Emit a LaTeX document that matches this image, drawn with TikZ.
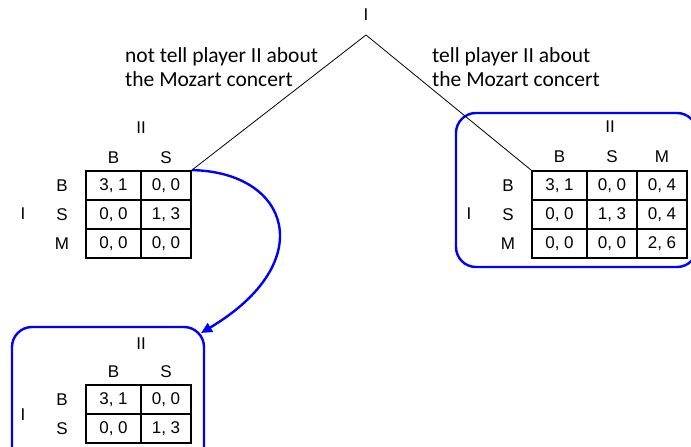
\documentclass[tikz,border=0pt]{standalone}
\usepackage{fontspec}
\setmainfont{Liberation Sans}
\newfontfamily\movefont{Carlito}
\usetikzlibrary{arrows.meta,positioning}

\begin{document}
\begin{tikzpicture}[x=1pt,y=-1pt,
    cell/.style={draw, line width=1.8pt, minimum height=29pt, inner sep=0pt, font=\fontsize{17}{19}\selectfont},
    wide/.style={cell, minimum width=55pt},
    slim/.style={cell, minimum width=50pt},
    lbl/.style={font=\fontsize{17}{19}\selectfont, inner sep=0pt},
    move/.style={font=\movefont\fontsize{21.5}{24}\selectfont, align=left, inner sep=0pt, anchor=base west},
    infoset/.style={draw=blue, line width=2.4pt, rounded corners=20pt}]
    \useasboundingbox (0,0) rectangle (691,447);

    % Root of the tree
    \node[lbl] (rootlbl) at (366,15) {I};
    \coordinate (root) at (366,35);

    % Moves of player I
    \node[move] (notell) at (125,86) {not tell player II about\\the Mozart concert};
    \node[move] (tell) at (432,86) {tell player II about\\the Mozart concert};

    % Left game: Mozart unknown to II
    \node[lbl] (lII) at (141,128) {II};
    \node[lbl] (lB) at (113.5,158) {B};
    \node[lbl] (lS) at (166,158) {S};
    \node[lbl] (lI) at (23,214) {I};
    \node[lbl] (lrB) at (62,185.5) {B};
    \node[lbl] (lrS) at (62,214.5) {S};
    \node[lbl] (lrM) at (62,243.5) {M};
    \node[wide] (l11) at (113.5,185.5) {3, 1};
    \node[slim] (l12) at (166,185.5) {0, 0};
    \node[wide] (l21) at (113.5,214.5) {0, 0};
    \node[slim] (l22) at (166,214.5) {1, 3};
    \node[wide] (l31) at (113.5,243.5) {0, 0};
    \node[slim] (l32) at (166,243.5) {0, 0};

    % Right game: Mozart known to II
    \draw[infoset] (456,113) rectangle (697,267);
    \node[lbl] (rII) at (610,127) {II};
    \node[lbl] (rB) at (559.5,157) {B};
    \node[lbl] (rS) at (612,157) {S};
    \node[lbl] (rM) at (662,157) {M};
    \node[lbl] (rI) at (469,214) {I};
    \node[lbl] (rrB) at (508,185.5) {B};
    \node[lbl] (rrS) at (508,214.5) {S};
    \node[lbl] (rrM) at (508,243.5) {M};
    \node[wide] (r11) at (559.5,185.5) {3, 1};
    \node[slim] (r12) at (612,185.5) {0, 0};
    \node[slim] (r13) at (662,185.5) {0, 4};
    \node[wide] (r21) at (559.5,214.5) {0, 0};
    \node[slim] (r22) at (612,214.5) {1, 3};
    \node[slim] (r23) at (662,214.5) {0, 4};
    \node[wide] (r31) at (559.5,243.5) {0, 0};
    \node[slim] (r32) at (612,243.5) {0, 0};
    \node[slim] (r33) at (662,243.5) {2, 6};

    % Reduced game: M dropped
    \draw[infoset] (12,327) rectangle (204,470);
    \node[lbl] (dII) at (141,344) {II};
    \node[lbl] (dB) at (113.5,372) {B};
    \node[lbl] (dS) at (166,372) {S};
    \node[lbl] (dI) at (23,415) {I};
    \node[lbl] (drB) at (62,399.5) {B};
    \node[lbl] (drS) at (62,428.5) {S};
    \node[wide] (d11) at (113.5,399.5) {3, 1};
    \node[slim] (d12) at (166,399.5) {0, 0};
    \node[wide] (d21) at (113.5,428.5) {0, 0};
    \node[slim] (d22) at (166,428.5) {1, 3};
    \coordinate (arrowend) at (201,333);

    % Branches and reduction arrow
    \draw[line width=0.8pt] (root) -- (l12.north east);
    \draw[line width=0.8pt] (root) -- (r11.north west);
    \draw[blue, line width=2.4pt, -{Triangle[length=11pt,width=10pt]}] (l12.north east) .. controls (290,172) and (320,262) .. (arrowend);

\end{tikzpicture}
\end{document}
